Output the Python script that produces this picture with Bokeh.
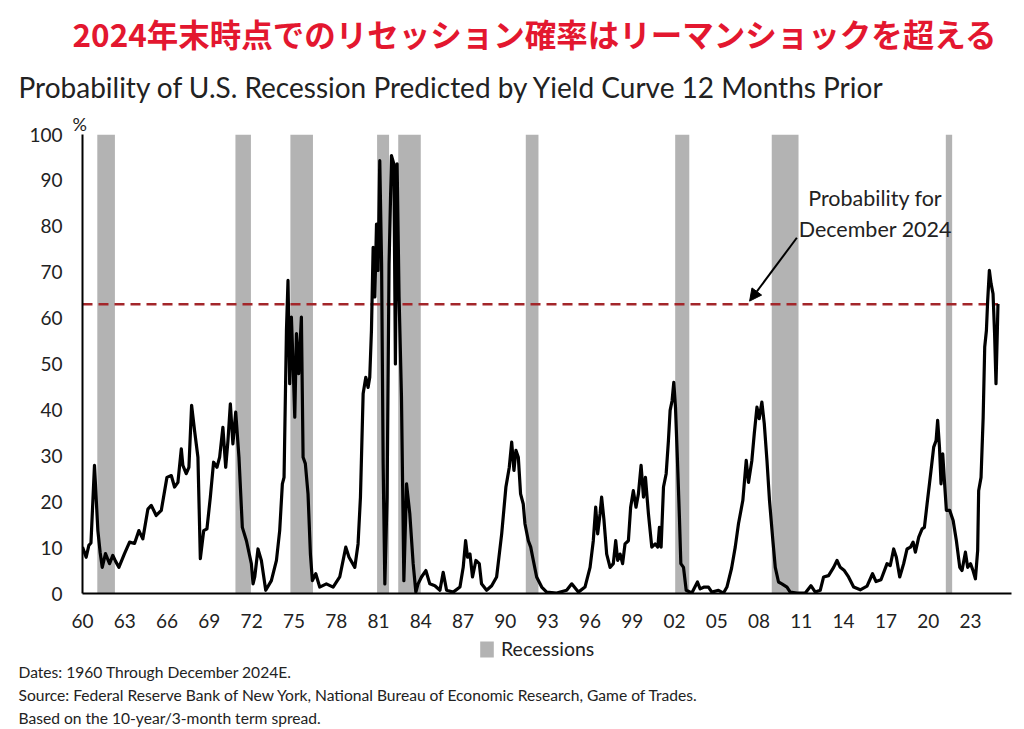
from bokeh.plotting import figure
from bokeh.layouts import column
from bokeh.models import Range1d, FixedTicker, Label, Arrow, NormalHead, Legend, LegendItem, Title
from bokeh.embed import file_html
from bokeh.resources import INLINE

# ---------------- data ----------------
years = [
    1960.00, 1960.26, 1960.45, 1960.60, 1960.85, 1961.09, 1961.25, 1961.40, 1961.63, 1961.92,
    1962.15, 1962.35, 1962.58, 1962.98, 1963.34, 1963.69, 1964.00, 1964.28, 1964.64, 1964.88,
    1965.23, 1965.59, 1965.99, 1966.30, 1966.53, 1966.77, 1967.01, 1967.12, 1967.36, 1967.55,
    1967.74, 1967.95, 1968.19, 1968.36, 1968.60, 1968.83, 1969.07, 1969.30, 1969.54, 1969.73,
    1969.96, 1970.16, 1970.32, 1970.49, 1970.67, 1970.87, 1971.10, 1971.34, 1971.63, 1971.98,
    1972.10, 1972.22, 1972.45, 1972.69, 1973.00, 1973.40, 1973.76, 1973.99, 1974.18, 1974.30,
    1974.47, 1974.58, 1974.70, 1974.82, 1974.94, 1975.06, 1975.18, 1975.34, 1975.53, 1975.65,
    1975.81, 1976.00, 1976.17, 1976.31, 1976.55, 1976.83, 1977.30, 1977.78, 1978.25, 1978.68,
    1978.91, 1979.32, 1979.55, 1979.72, 1979.91, 1980.10, 1980.26, 1980.38, 1980.50, 1980.62,
    1980.74, 1980.86, 1980.97, 1981.09, 1981.22, 1981.33, 1981.45, 1981.61, 1981.75, 1981.92,
    1982.09, 1982.20, 1982.32, 1982.46, 1982.63, 1982.80, 1982.99, 1983.22, 1983.46, 1983.65,
    1983.81, 1984.05, 1984.36, 1984.64, 1985.00, 1985.36, 1985.59, 1985.83, 1986.30, 1986.78,
    1987.01, 1987.18, 1987.32, 1987.49, 1987.67, 1987.91, 1988.15, 1988.31, 1988.67, 1989.03,
    1989.38, 1989.74, 1990.04, 1990.28, 1990.45, 1990.61, 1990.75, 1990.92, 1991.08, 1991.27,
    1991.39, 1991.63, 1991.80, 1991.94, 1992.22, 1992.58, 1992.93, 1993.64, 1994.35, 1994.71,
    1995.18, 1995.65, 1996.01, 1996.24, 1996.41, 1996.55, 1996.72, 1996.83, 1997.00, 1997.19,
    1997.43, 1997.66, 1997.83, 1997.97, 1998.14, 1998.32, 1998.49, 1998.73, 1998.89, 1999.08,
    1999.27, 1999.44, 1999.63, 1999.80, 1999.94, 2000.15, 2000.39, 2000.63, 2000.82, 2000.93,
    2001.05, 2001.22, 2001.41, 2001.57, 2001.69, 2001.83, 2001.95, 2002.07, 2002.21, 2002.35,
    2002.45, 2002.64, 2002.83, 2003.23, 2003.63, 2003.82, 2004.11, 2004.41, 2004.65, 2005.12,
    2005.48, 2005.72, 2006.05, 2006.31, 2006.54, 2006.85, 2007.09, 2007.25, 2007.49, 2007.66,
    2007.85, 2008.01, 2008.20, 2008.37, 2008.56, 2008.74, 2008.98, 2009.15, 2009.38, 2009.62,
    2009.98, 2010.21, 2010.69, 2011.28, 2011.68, 2011.99, 2012.34, 2012.58, 2012.93, 2013.29,
    2013.53, 2013.76, 2014.05, 2014.35, 2014.71, 2015.18, 2015.66, 2016.05, 2016.30, 2016.65,
    2017.08, 2017.31, 2017.55, 2017.74, 2017.98, 2018.26, 2018.50, 2018.74, 2018.93, 2019.09,
    2019.33, 2019.57, 2019.73, 2019.92, 2020.09, 2020.20, 2020.39, 2020.56, 2020.67, 2020.80,
    2020.91, 2021.03, 2021.15, 2021.29, 2021.53, 2021.77, 2022.00, 2022.24, 2022.40, 2022.64,
    2022.80, 2023.00, 2023.18, 2023.35, 2023.51, 2023.58, 2023.75, 2023.90, 2024.01, 2024.13,
    2024.22, 2024.34, 2024.46, 2024.60, 2024.71, 2024.81, 2024.90, 2024.95,
]
probability = [
    10.1, 7.9, 10.5, 11.0, 27.9, 13.7, 9.0, 5.7, 8.7, 6.5,
    8.3, 7.0, 5.7, 8.7, 11.2, 10.9, 13.7, 11.9, 18.4, 19.2,
    17.0, 18.1, 25.3, 25.7, 23.2, 24.2, 31.5, 27.9, 26.1, 27.5,
    41.0, 35.5, 29.7, 7.6, 13.7, 14.1, 21.0, 28.6, 27.5, 29.7,
    36.2, 27.5, 33.3, 41.3, 32.6, 39.5, 29.7, 14.4, 11.5, 6.5,
    2.1, 3.6, 9.7, 7.2, 0.7, 2.8, 7.2, 13.7, 23.9, 25.3,
    57.3, 68.2, 45.7, 60.2, 50.0, 38.4, 56.6, 47.9, 60.2, 29.7,
    28.3, 21.7, 8.6, 2.8, 4.3, 1.4, 2.1, 1.4, 3.6, 10.1,
    7.9, 5.7, 10.8, 21.0, 43.5, 47.1, 44.9, 47.1, 57.3, 75.4,
    64.6, 80.5, 70.4, 94.3, 71.8, 28.3, 2.1, 21.0, 71.8, 95.4,
    93.6, 50.0, 93.6, 64.6, 42.8, 2.8, 23.9, 17.4, 6.5, 0.3,
    2.1, 3.6, 5.0, 2.1, 1.7, 0.7, 4.6, 0.7, 0.3, 1.4,
    5.7, 11.5, 7.9, 8.6, 3.6, 7.2, 6.5, 2.1, 0.7, 1.7,
    3.6, 13.0, 23.2, 27.5, 33.0, 26.8, 31.2, 29.7, 21.7, 19.5,
    15.2, 11.5, 10.1, 7.9, 3.6, 1.4, 0.3, 0.1, 0.7, 2.1,
    0.3, 1.4, 5.7, 11.5, 18.8, 13.0, 17.4, 21.0, 15.9, 8.6,
    5.7, 6.5, 11.5, 7.2, 8.6, 6.5, 10.8, 11.5, 18.8, 22.4,
    18.8, 21.7, 27.9, 21.0, 25.3, 17.4, 10.1, 10.8, 10.1, 14.4,
    10.1, 23.2, 26.1, 33.3, 39.9, 42.0, 46.0, 40.6, 29.0, 16.6,
    6.5, 5.7, 0.7, 0.1, 2.5, 1.0, 1.4, 1.4, 0.3, 0.7,
    0.1, 1.4, 5.5, 10.1, 15.2, 20.3, 29.0, 24.2, 29.0, 34.8,
    40.6, 38.1, 41.7, 37.0, 29.0, 20.3, 11.5, 5.7, 2.5, 2.1,
    1.4, 0.3, 0.1, 0.1, 1.7, 0.3, 0.7, 3.6, 3.9, 5.7,
    7.2, 5.7, 5.0, 3.6, 1.4, 0.8, 1.6, 4.3, 2.6, 3.0,
    6.5, 6.1, 9.7, 7.9, 3.6, 6.5, 9.7, 10.1, 11.2, 9.0,
    12.3, 14.1, 14.4, 19.5, 23.9, 26.8, 31.9, 33.3, 37.7, 31.9,
    23.9, 30.4, 24.6, 18.1, 18.1, 15.9, 11.5, 5.7, 5.0, 9.0,
    5.7, 6.5, 5.0, 3.2, 9.4, 22.4, 25.3, 38.4, 53.7, 57.3,
    63.8, 70.4, 67.5, 65.3, 56.6, 45.7, 56.6, 63.1,
]
# recession bands as drawn on the chart (shifted 12 months forward)
rec_start = [1961.05, 1970.85, 1974.75, 1980.90, 1982.40, 1991.45, 2002.05, 2008.90, 2021.25]
rec_end = [1962.30, 1971.95, 1976.35, 1981.75, 1984.00, 1992.35, 2003.05, 2010.80, 2021.70]

x_tick_years = list(range(1960, 2024, 3))
x_tick_labels = ["60", "63", "66", "69", "72", "75", "78", "81", "84", "87", "90",
                 "93", "96", "99", "02", "05", "08", "11", "14", "17", "20", "23"]
y_ticks = list(range(0, 101, 10))
threshold = 63  # probability for December 2024
y_min, y_max = 0, 100

FONT = "Lato"
TXT = "#222222"
REC_COLOR = "#b3b3b3"
W = 1016
LEFT, RIGHT = 82, 5
MAIN_H, FOOT_H = 636, 93

# ======================= main chart =======================
p = figure(width=W, height=MAIN_H, output_backend="svg", toolbar_location=None,
           x_range=Range1d(1960, 2025.91), y_range=Range1d(y_min, y_max),
           min_border_left=LEFT, min_border_right=RIGHT, min_border_top=134,
           min_border_bottom=MAIN_H - 593)
p.outline_line_color = None
p.grid.visible = False

rec = p.quad(left=rec_start, right=rec_end, bottom=y_min, top=y_max,
             fill_color=REC_COLOR, line_color=None)
p.line([years[0], years[-1]], [threshold, threshold], line_color="#a3262a",
       line_width=2.5, line_dash="10 6")
p.line(years, probability, line_color="black", line_width=3.2, line_join="round")

p.xaxis.ticker = FixedTicker(ticks=x_tick_years)
p.xaxis.major_label_overrides = {y: l for y, l in zip(x_tick_years, x_tick_labels)}
p.yaxis.ticker = FixedTicker(ticks=y_ticks)
for ax in (p.xaxis[0], p.yaxis[0]):
    ax.axis_line_color = "black"
    ax.axis_line_width = 2
    ax.major_tick_line_color = None
    ax.minor_tick_line_color = None
    ax.major_label_text_font = FONT
    ax.major_label_text_font_size = "19px"
    ax.major_label_text_color = TXT
p.xaxis.major_label_standoff = 14
p.yaxis.major_label_standoff = 14

# annotation
p.add_layout(Label(x=2016.24, y=86.1, text="Probability for", text_font=FONT,
                   text_font_size="21.5px", text_color=TXT, text_align="center",
                   text_baseline="middle"))
p.add_layout(Label(x=2016.25, y=79.4, text="December 2024", text_font=FONT,
                   text_font_size="21.5px", text_color=TXT, text_align="center",
                   text_baseline="middle"))
p.add_layout(Arrow(end=NormalHead(size=12, fill_color="black", line_color="black"),
                   x_start=2010.68, y_start=77.5, x_end=2007.33, y_end=63.7,
                   line_color="black", line_width=2))

# texts above the frame: headline (outermost), subtitle, "%" (nearest the frame)
p.title.text = "2024年末時点でのリセッション確率はリーマンショックを超える"
p.title.align = "left"
p.title.offset = 72 - LEFT
p.title.text_font = "Noto Sans CJK JP"
p.title.text_font_size = "31.5px"
p.title.text_font_style = "bold"
p.title.text_color = "#e3172f"
p.title.standoff = 12
p.add_layout(Title(text="%", align="left", offset=72 - LEFT, text_font=FONT,
                   text_font_size="18px", text_font_style="normal", text_color=TXT,
                   standoff=0), "above")
p.add_layout(Title(text="Probability of U.S. Recession Predicted by Yield Curve 12 Months Prior",
                   align="left", offset=18 - LEFT, text_font=FONT, text_font_size="28px",
                   text_font_style="normal", text_color=TXT, standoff=13), "above")

# ======================= footer: legend + notes =======================
LEG_H = 24
f = figure(width=W, height=FOOT_H, output_backend="svg", toolbar_location=None,
           x_range=Range1d(0, 1), y_range=Range1d(0, 1),
           x_axis_type=None, y_axis_type=None,
           min_border_left=LEFT, min_border_right=RIGHT, min_border_top=0,
           min_border_bottom=FOOT_H - LEG_H)
f.outline_line_color = None
f.grid.visible = False
# legend-only copy of the recession glyph (its data lies outside this strip's range)
swatch = f.quad(left=rec_start, right=rec_end, bottom=y_min, top=y_max,
                fill_color=REC_COLOR, line_color=None)
legend = Legend(items=[LegendItem(label="Recessions", renderers=[swatch])],
                location=(478 - LEFT, 0), orientation="horizontal", padding=0, margin=0,
                spacing=0, glyph_width=17, glyph_height=20, label_standoff=6,
                label_height=20, label_text_font=FONT, label_text_font_size="19.5px",
                label_text_color=TXT, border_line_color=None, background_fill_alpha=0)
f.add_layout(legend, "center")

notes = ["Dates: 1960 Through December 2024E.",
         "Source: Federal Reserve Bank of New York, National Bureau of Economic Research, Game of Trades.",
         "Based on the 10-year/3-month term spread."]
note_standoffs = [0, 6, 0]
for note, so in zip(notes, note_standoffs):
    f.add_layout(Title(text=note, align="left", offset=18 - LEFT, text_font=FONT,
                       text_font_size="15.6px", text_font_style="normal", text_color=TXT,
                       standoff=so), "below")

layout = column(p, f, spacing=0)
open("out.html", "w").write(file_html(layout, INLINE))
